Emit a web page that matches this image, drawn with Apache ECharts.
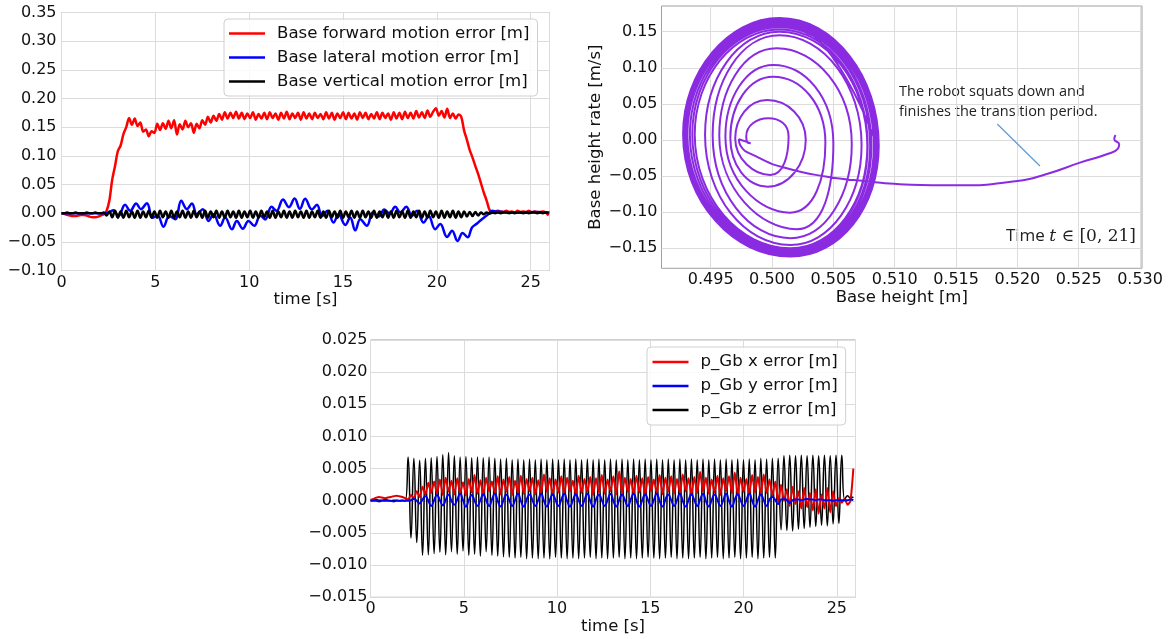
<!DOCTYPE html>
<html><head><meta charset="utf-8">
<script src="https://cdn.jsdelivr.net/npm/echarts@6/dist/echarts.min.js"></script>
<style>html,body{margin:0;padding:0;background:#fff}#c{width:1174px;height:639px}</style>
</head><body><div id="c"></div>
<script>
// ---------- Chart 1 : base motion errors (sample step dt1) ----------
const dt1 = 0.15;
const forwardError = [
0.000,-0.001,-0.003,-0.004,-0.005,-0.005,-0.004,-0.003,-0.003,-0.004,-0.006,-0.007,-0.007,-0.006,-0.004,-0.002,
0.004,0.022,0.058,0.082,0.108,0.118,0.138,0.150,
0.166,0.154,0.165,0.152,0.158,0.142,0.146,0.134,0.143,0.140,0.156,0.145,0.157,0.147,0.161,0.148,0.162,0.137,0.155,0.146,
0.161,0.150,0.157,0.140,0.156,0.148,0.162,0.154,0.168,0.158,0.170,0.161,0.173,0.163,0.176,0.165,0.175,0.166,0.177,0.165,
0.175,0.164,0.174,0.166,0.176,0.163,0.173,0.165,0.175,0.164,
0.176,0.166,0.174,0.163,0.175,0.165,0.177,0.164,0.174,0.166,
0.175,0.163,0.176,0.165,0.174,0.164,0.175,0.166,0.173,0.164,
0.176,0.165,0.175,0.163,0.174,0.166,0.176,0.164,0.175,0.165,
0.174,0.163,0.176,0.166,0.175,0.164,0.173,0.165,0.176,0.164,
0.175,0.166,0.174,0.163,0.176,0.165,0.175,0.164,0.177,0.166,
0.175,0.165,0.178,0.167,0.176,0.166,0.179,0.168,0.177,
0.183,0.170,0.178,0.167,0.182,0.166,0.174,0.165,0.172,
0.168,0.144,0.128,0.110,0.097,0.082,0.068,0.052,0.036,0.022,0.006,0.001,0.003,0.004,
0.003,0.002,0.004,0.002,0.003,0.001,0.004,0.002,0.003,0.002,0.004,0.001,0.003,0.002,0.002,0.003,0.001,-0.004
];
const verticalError = [
0.000,0.000,0.001,0.000,0.000,0.001,0.000,0.000,0.000,0.001,0.000,0.000,0.001,0.000,0.000,0.001,
-0.004,0.003,-0.007,0.004,-0.008,0.003,-0.008,0.004,-0.007,0.003,
-0.008,0.004,-0.008,0.003,-0.007,0.004,-0.008,0.003,-0.008,0.004,
-0.007,0.003,-0.008,0.004,-0.008,0.003,-0.007,0.004,-0.008,0.003,
-0.008,0.004,-0.007,0.003,-0.008,0.004,-0.008,0.003,-0.007,0.004,
-0.008,0.003,-0.008,0.004,-0.007,0.003,-0.008,0.004,-0.008,0.003,
-0.007,0.004,-0.008,0.003,-0.008,0.004,-0.007,0.003,-0.008,0.004,
-0.008,0.003,-0.007,0.004,-0.008,0.003,-0.008,0.004,-0.007,0.003,
-0.008,0.004,-0.008,0.003,-0.007,0.004,-0.008,0.003,-0.008,0.004,
-0.007,0.003,-0.008,0.004,-0.008,0.003,-0.007,0.004,-0.008,0.003,
-0.008,0.004,-0.007,0.003,-0.008,0.004,-0.008,0.003,-0.007,0.004,
-0.008,0.003,-0.008,0.004,-0.007,0.003,-0.008,0.004,-0.008,0.003,
-0.007,0.004,-0.008,0.003,-0.008,0.004,-0.007,0.003,-0.008,0.004,
-0.008,0.003,-0.007,0.004,-0.008,0.003,-0.007,0.003,-0.006,0.002,-0.005,
0.002,-0.004,0.001,-0.002,0.001,-0.001,0.001,0.000,0.001,0.000,0.001,0.001,0.000,0.001,0.000,0.001,0.001,0.000,0.001,0.000,0.001,0.001,0.000,0.001,0.000,0.001,0.000
];
// [time, value] pairs read at the wobble extremes
const lateralError = [
[0,0],[1.0,0.000],[2.23,0.000],[2.5,0.001],[2.77,0.005],[3.03,-0.005],[3.39,0.0145],[3.66,0.004],[3.98,0.017],[4.23,0.007],[4.55,0.0175],
[4.85,-0.008],[5.12,-0.004],[5.43,-0.0235],[5.75,-0.005],[6.06,-0.0105],[6.38,0.0215],[6.68,0.007],[6.95,0.017],[7.21,-0.002],[7.53,0.007],
[7.83,-0.0135],[8.10,-0.002],[8.45,-0.022],[8.72,-0.0077],[9.08,-0.028],[9.34,-0.0135],[9.66,-0.027],[9.96,-0.0135],[10.27,-0.022],[10.59,-0.004],
[10.85,-0.011],[11.19,0.011],[11.46,0.004],[11.80,0.024],[12.12,0.0105],[12.42,0.0256],[12.70,0.0075],[12.98,0.025],[13.34,0.0065],[13.61,0.0145],
[13.88,-0.005],[14.17,0.004],[14.49,-0.0164],[14.76,-0.002],[15.12,-0.0205],[15.38,-0.0077],[15.65,-0.030],[15.92,-0.0105],[16.27,-0.022],[16.59,0.0015],
[16.89,-0.006],[17.20,0.0065],[17.48,-0.001],[17.78,0.011],[18.05,0.0015],[18.37,0.011],[18.67,-0.005],[18.94,0.004],[19.29,-0.0164],[19.56,-0.005],
[19.91,-0.028],[20.18,-0.019],[20.54,-0.0415],[20.81,-0.0305],[21.10,-0.0485],[21.37,-0.0345],[21.64,-0.042],[21.87,-0.025],[22.14,-0.018],[22.40,-0.0105],
[22.70,-0.003],[22.94,0.004],[23.20,0.003],[24.27,0.001],[25.2,0.002],[26,0.001]
];

// ---------- Chart 2 : phase portrait (base height, base height rate) ----------
const phaseTail = [
[0.52800,0.0070],[0.52790,0.0010],[0.52830,-0.0060],[0.52820,-0.0120],[0.52740,-0.0190],[0.52510,-0.0314],[0.52240,-0.0470],
[0.52000,-0.0568],[0.51500,-0.0628],[0.51040,-0.0612],[0.50800,-0.0577],[0.50450,-0.0508],[0.50120,-0.0392],[0.49875,-0.0231],
[0.49740,-0.0069],[0.49730,0.0010],[0.49800,-0.0030],[0.49825,-0.0045],[0.49800,-0.0035]
];
// spiral extremes, one turn = left, top, right, bottom
const phaseSpiral = [
[0.49790,0.0050],[0.49970,0.0300],[0.50135,0.0050],[0.49985,-0.0485],
[0.49700,0.0020],[0.49960,0.0554],[0.50275,0.0000],[0.49965,-0.0646],
[0.49660,0.0030],[0.50010,0.0877],[0.50435,-0.0040],[0.50146,-0.1006],
[0.49620,0.0050],[0.50010,0.1040],[0.50500,-0.0050],[0.50200,-0.1237],
[0.49570,0.0060],[0.50038,0.1270],[0.50650,-0.0060],[0.50150,-0.1360],
[0.49516,0.0070],[0.50060,0.1450],[0.50730,-0.0070],[0.50150,-0.1454],
[0.49454,0.0070],[0.50060,0.1500],[0.50777,-0.0080],[0.50150,-0.1500],
[0.49370,0.0080],[0.50060,0.1530],[0.50780,-0.0080],[0.50150,-0.1520],
[0.49350,0.0080],[0.50060,0.1560],[0.50800,-0.0080],[0.50150,-0.1540],
[0.49330,0.0080],[0.50060,0.1580],[0.50810,-0.0080],[0.50150,-0.1560],
[0.49310,0.0080],[0.50060,0.1600],[0.50830,-0.0080],[0.50150,-0.1570],
[0.49300,0.0080],[0.50060,0.1620],[0.50840,-0.0080],[0.50150,-0.1580],
[0.49290,0.0080],[0.50060,0.1630],[0.50850,-0.0080],[0.50150,-0.1590],
[0.49285,0.0080],[0.50060,0.1650],[0.50860,-0.0080],[0.50150,-0.1600],
[0.49280,0.0080],[0.50060,0.1660],[0.50865,-0.0080],[0.50150,-0.1605],
[0.49275,0.0080],[0.50060,0.1670],[0.50860,-0.0080],[0.50150,-0.1610],
[0.49280,0.0080],[0.50060,0.1680],[0.50865,-0.0080],[0.50150,-0.1612],
[0.49290,0.0080],[0.50060,0.1675],[0.50870,-0.0080],[0.50150,-0.1615],
[0.49280,0.0080],[0.50060,0.1690],[0.50860,-0.0080],[0.50150,-0.1610],
[0.49285,0.0080],[0.50060,0.1685],[0.50865,-0.0080],[0.50150,-0.1605],
[0.49275,0.0080],[0.50060,0.1680],[0.50855,-0.0080],[0.50150,-0.1600],
[0.49290,0.0080],[0.50060,0.1670],[0.50860,-0.0080],[0.50150,-0.1608],
[0.49280,0.0080],[0.50060,0.1660],[0.50850,-0.0080],[0.50150,-0.1595],
[0.49300,0.0080],[0.50060,0.1675],[0.50845,-0.0080],[0.50150,-0.1590],
[0.49285,0.0080],[0.50060,0.1665],[0.50855,-0.0080]
];
const arrowFrom = [0.51836, 0.0222];
const arrowTo = [0.52184, -0.0360];
const phaseXTicks = [0.495,0.500,0.505,0.510,0.515,0.520,0.525,0.530];
const phaseYTicks = [-0.15,-0.10,-0.05,0.00,0.05,0.10,0.15];

// ---------- Chart 3 : p_Gb errors (sample step dt3) ----------
const dt3 = 0.155;
const pGbX = [
0.0001,0.0003,0.0005,0.0006,0.0005,0.0004,0.0005,0.0006,0.0007,0.0008,0.0007,0.0006,0.0004,
0.0002,0.0009,0.0004,0.0015,0.0006,0.0022,0.0010,0.0028,0.0012,0.0030,
0.0011,0.0033,0.0009,0.0036,0.0014,0.0031,0.0010,0.0035,0.0012,0.0029,
0.0008,0.0034,0.0013,0.0040,0.0011,0.0032,0.0009,0.0036,0.0015,0.0030,
0.0012,0.0038,0.0010,0.0033,0.0014,0.0037,0.0009,0.0031,0.0013,0.0039,
0.0011,0.0034,0.0015,0.0036,0.0010,0.0032,0.0012,0.0041,0.0014,0.0035,
0.0009,0.0033,0.0013,0.0038,0.0011,0.0036,0.0015,0.0031,0.0010,0.0039,
0.0012,0.0034,0.0014,0.0037,0.0009,0.0035,0.0013,0.0040,0.0011,0.0033,
0.0015,0.0038,0.0010,0.0046,0.0012,0.0036,0.0014,0.0034,0.0011,0.0039,
0.0013,0.0035,0.0009,0.0037,0.0015,0.0033,0.0012,0.0040,0.0010,0.0036,
0.0014,0.0038,0.0011,0.0034,0.0013,0.0041,0.0015,0.0035,0.0010,0.0037,
0.0012,0.0045,0.0014,0.0036,0.0011,0.0033,0.0013,0.0039,0.0009,0.0035,
0.0015,0.0038,0.0012,0.0044,0.0010,0.0036,0.0014,0.0034,0.0011,0.0040,
0.0013,0.0037,0.0010,0.0041,0.0012,0.0033,0.0008,
0.0030,-0.0002,0.0025,0.0000,0.0018,-0.0008,0.0022,-0.0005,0.0015,-0.0012,0.0020,-0.0010,0.0012,-0.0015,
0.0018,-0.0020,0.0010,-0.0012,0.0020,-0.0018,0.0015,-0.0008,0.0004,-0.0003,0.0003,-0.0006,0.0000,0.0050
];
const pGbY = [
0.0000,0.0000,0.0000,-0.0001,0.0000,0.0000,0.0000,0.0000,-0.0001,0.0000,0.0000,0.0000,0.0000,0.0000,
0.0001,0.0003,0.0000,-0.0004, 0.0002,0.0007,0.0000,-0.0008, 0.0001,0.0009,0.0001,-0.0007, 0.0001,0.0010,0.0000,-0.0006,
0.0002,0.0011,0.0001,-0.0009, 0.0001,0.0009,0.0000,-0.0008, 0.0001,0.0010,0.0001,-0.0008, 0.0002,0.0011,0.0000,-0.0009,
0.0001,0.0010,0.0001,-0.0008, 0.0001,0.0011,0.0000,-0.0009, 0.0002,0.0010,0.0001,-0.0008, 0.0001,0.0011,0.0000,-0.0009,
0.0001,0.0010,0.0001,-0.0008, 0.0002,0.0011,0.0000,-0.0009, 0.0001,0.0010,0.0001,-0.0008, 0.0001,0.0011,0.0000,-0.0009,
0.0002,0.0010,0.0001,-0.0008, 0.0001,0.0011,0.0000,-0.0009, 0.0001,0.0010,0.0001,-0.0008, 0.0002,0.0011,0.0000,-0.0009,
0.0001,0.0010,0.0001,-0.0008, 0.0001,0.0011,0.0000,-0.0009, 0.0002,0.0010,0.0001,-0.0008, 0.0001,0.0011,0.0000,-0.0009,
0.0001,0.0010,0.0001,-0.0008, 0.0002,0.0011,0.0000,-0.0009, 0.0001,0.0010,0.0001,-0.0008, 0.0001,0.0011,0.0000,-0.0009,
0.0002,0.0010,0.0001,-0.0008, 0.0001,0.0011,0.0000,-0.0009, 0.0001,0.0010,0.0001,-0.0008, 0.0002,0.0006,0.0001,-0.0005,
0.0002,0.0003,0.0001,-0.0003,0.0001,0.0002,0.0002,0.0001,0.0002,0.0003,0.0002,0.0002,0.0001,0.0002,0.0002,0.0001,
0.0001,0.0001,0.0000,0.0001,0.0001,0.0001,0.0001,0.0001,0.0002,0.0001
];
const pGbZ = [
0.0000,0.0001,0.0002,0.0001,0.0001,0.0002,0.0001,0.0000,0.0001,0.0001,0.0000,0.0001,0.0000,
0.0068,-0.0058,0.0066,-0.0065,0.0063,-0.0085,0.0066,
-0.0084,0.0067,-0.0082,0.0069,-0.0080,0.0072,-0.0084,0.0075,-0.0079,0.0070,
-0.0083,0.0068,-0.0078,0.0069,-0.0085,0.0067,-0.0083,0.0068,-0.0086,0.0067,
-0.0079,0.0068,-0.0085,0.0066,-0.0086,0.0065,-0.0087,0.0066,-0.0088,0.0064,
-0.0089,0.0065,-0.0088,0.0064,-0.0090,0.0065,-0.0089,0.0064,-0.0090,0.0065,
-0.0089,0.0064,-0.0090,0.0065,-0.0088,0.0064,-0.0089,0.0065,-0.0090,0.0064,
-0.0089,0.0065,-0.0090,0.0064,-0.0089,0.0065,-0.0088,0.0064,-0.0090,0.0065,
-0.0089,0.0064,-0.0090,0.0065,-0.0089,0.0064,-0.0088,0.0065,-0.0090,0.0064,
-0.0089,0.0065,-0.0090,0.0064,-0.0089,0.0065,-0.0088,0.0064,-0.0089,0.0065,
-0.0090,0.0064,-0.0089,0.0065,-0.0088,0.0064,-0.0090,0.0065,-0.0089,0.0064,
-0.0090,0.0065,-0.0089,0.0064,-0.0088,0.0065,-0.0090,0.0064,-0.0089,0.0065,
-0.0088,0.0064,-0.0090,0.0065,-0.0089,0.0064,-0.0088,0.0065,-0.0090,0.0064,
-0.0089,0.0065,-0.0088,0.0064,-0.0090,0.0066,-0.0089,0.0065,-0.0088,0.0066,
-0.0089,0.0066,-0.0045,0.0070,-0.0046,0.0071,-0.0047,0.0070,-0.0044,0.0071,-0.0043,0.0070,
-0.0041,0.0071,-0.0040,0.0070,-0.0038,0.0071,-0.0039,0.0070,-0.0036,0.0071,-0.0035,0.0071,
0.0002,0.0008,0.0004,0.0006
];

const timeTicks = [0,5,10,15,20,25];

// ---------- helpers ----------
const sampled = (arr, dt) => arr.map((v, i) => [i * dt, v]);
const fmt = d => v => { if (Math.abs(v) < 1e-12) v = 0; return v.toFixed(d).replace('-', '\u2212'); };
const timeFmt = v => timeTicks.some(t => Math.abs(t - v) < 1e-9) ? String(Math.round(v)) : '';
const FONT = 'DejaVu Sans';
const labelStyle = { color: '#111', fontFamily: FONT, fontSize: 16 };
const gridStyle = { show: true, borderColor: '#a0a0a0', borderWidth: 1, backgroundColor: 'transparent', outerBoundsMode: 'none', containLabel: false };
const split = { show: true, lineStyle: { color: '#dcdcdc', width: 1 } };
const nameStyle = { color: '#111', fontFamily: FONT, fontSize: 16.5 };
const legendText = { fontSize: 16.6, fontFamily: FONT, color: '#111', lineHeight: 20, padding: [0, 0, 0, 7] };

function axisBase(extra) {
  return Object.assign({
    type: 'value', axisLine: { show: false }, axisTick: { show: false }, splitLine: split
  }, extra);
}

const chart = echarts.init(document.getElementById('c'), null, { renderer: 'canvas' });
chart.setOption({
  animation: false,
  backgroundColor: '#fff',
  grid: [
    Object.assign({ left: 61.5, top: 12.5, width: 488, height: 258 }, gridStyle),
    Object.assign({ left: 661.5, top: 6, width: 480.5, height: 262.3 }, gridStyle),
    Object.assign({ left: 370.5, top: 340, width: 485, height: 257.3 }, gridStyle)
  ],
  xAxis: [
    axisBase({ gridIndex: 0, min: 0, max: 26, interval: 5,
      axisLabel: Object.assign({ formatter: timeFmt, margin: 4, showMaxLabel: false }, labelStyle),
      name: 'time [s]', nameLocation: 'middle', nameGap: 19, nameTextStyle: nameStyle }),
    axisBase({ gridIndex: 1, min: 0.49099, max: 0.53016,
      axisTick: { show: false, customValues: phaseXTicks },
      axisLabel: Object.assign({ customValues: phaseXTicks, formatter: fmt(3), margin: 4 }, labelStyle),
      name: 'Base height [m]', nameLocation: 'middle', nameGap: 19, nameTextStyle: nameStyle }),
    axisBase({ gridIndex: 2, min: 0, max: 26, interval: 5,
      axisLabel: Object.assign({ formatter: timeFmt, margin: 4, showMaxLabel: false }, labelStyle),
      name: 'time [s]', nameLocation: 'middle', nameGap: 19, nameTextStyle: nameStyle })
  ],
  yAxis: [
    axisBase({ gridIndex: 0, min: -0.10, max: 0.35, interval: 0.05,
      axisLabel: Object.assign({ formatter: fmt(2), margin: 5 }, labelStyle) }),
    axisBase({ gridIndex: 1, min: -0.1777, max: 0.1856,
      axisTick: { show: false, customValues: phaseYTicks },
      axisLabel: Object.assign({ customValues: phaseYTicks, formatter: fmt(2), margin: 4 }, labelStyle),
      name: 'Base height rate [m/s]', nameLocation: 'middle', nameGap: 56, nameTextStyle: nameStyle }),
    axisBase({ gridIndex: 2, min: -0.015, max: 0.025, interval: 0.005,
      axisLabel: Object.assign({ formatter: fmt(3), margin: 3 }, labelStyle) })
  ],
  legend: [
    { data: ['Base forward motion error [m]', 'Base lateral motion error [m]', 'Base vertical motion error [m]'],
      orient: 'vertical', left: 224, top: 19, icon: 'rect', itemWidth: 36, itemHeight: 2.6, itemGap: 4,
      padding: [4.5, 8, 4.5, 5], backgroundColor: 'rgba(255,255,255,0.85)', borderColor: '#d0d0d0', borderWidth: 1, borderRadius: 4,
      textStyle: legendText },
    { data: ['p_Gb x error [m]', 'p_Gb y error [m]', 'p_Gb z error [m]'],
      orient: 'vertical', left: 647, top: 347, icon: 'rect', itemWidth: 36, itemHeight: 2.4, itemGap: 4,
      padding: [5, 8, 5, 5.5], backgroundColor: 'rgba(255,255,255,0.85)', borderColor: '#d0d0d0', borderWidth: 1, borderRadius: 4,
      textStyle: legendText }
  ],
  series: [
    { name: 'Base forward motion error [m]', type: 'line', xAxisIndex: 0, yAxisIndex: 0, data: sampled(forwardError, dt1),
      symbol: 'none', smooth: 0.3, lineStyle: { color: '#ff0000', width: 2.5 }, itemStyle: { color: '#ff0000' } },
    { name: 'Base lateral motion error [m]', type: 'line', xAxisIndex: 0, yAxisIndex: 0, data: lateralError,
      symbol: 'none', smooth: 0.4, lineStyle: { color: '#0000ff', width: 2.5 }, itemStyle: { color: '#0000ff' } },
    { name: 'Base vertical motion error [m]', type: 'line', xAxisIndex: 0, yAxisIndex: 0, data: sampled(verticalError, dt1),
      symbol: 'none', smooth: 0.4, lineStyle: { color: '#000000', width: 2.5 }, itemStyle: { color: '#000000' } },

    { name: 'phase', type: 'line', xAxisIndex: 1, yAxisIndex: 1, data: phaseTail.concat(phaseSpiral),
      symbol: 'none', smooth: 0.55, lineStyle: { color: '#8a2be2', width: 2 }, itemStyle: { color: '#8a2be2' },
      markLine: { silent: true, symbol: ['none', 'arrow'], symbolSize: [0, 7], label: { show: false },
        lineStyle: { color: '#5b9bd5', width: 1.2, type: 'solid' },
        data: [[{ coord: arrowFrom }, { coord: arrowTo }]] } },

    { name: 'p_Gb z error [m]', type: 'line', xAxisIndex: 2, yAxisIndex: 2, data: sampled(pGbZ, dt3),
      symbol: 'none', smooth: 0.5, lineStyle: { color: '#000000', width: 1.5 }, itemStyle: { color: '#000000' } },
    { name: 'p_Gb x error [m]', type: 'line', xAxisIndex: 2, yAxisIndex: 2, data: sampled(pGbX, dt3),
      symbol: 'none', smooth: 0.2, lineStyle: { color: '#e00000', width: 2 }, itemStyle: { color: '#ff0000' } },
    { name: 'p_Gb y error [m]', type: 'line', xAxisIndex: 2, yAxisIndex: 2, data: sampled(pGbY, dt3),
      symbol: 'none', smooth: 0.5, lineStyle: { color: '#0000ee', width: 2 }, itemStyle: { color: '#0000ff' } }
  ],
  graphic: [
    { type: 'text', left: 899, top: 81.5, silent: true,
      style: { text: 'The robot squats down and\nfinishes the transition period.', font: '14.5px "Open Sans"', lineHeight: 20, fill: '#222' } },
    { type: 'text', right: 38, top: 228, silent: true,
      style: { text: '{a|Time }{b|t}{c| \u2208 [0, 21]}', fill: '#222',
        rich: { a: { fontFamily: 'Open Sans', fontSize: 17 },
                b: { fontFamily: 'DejaVu Serif', fontStyle: 'italic', fontSize: 17 },
                c: { fontFamily: 'DejaVu Serif', fontSize: 17 } } } }
  ]
});
</script>
</body></html>
